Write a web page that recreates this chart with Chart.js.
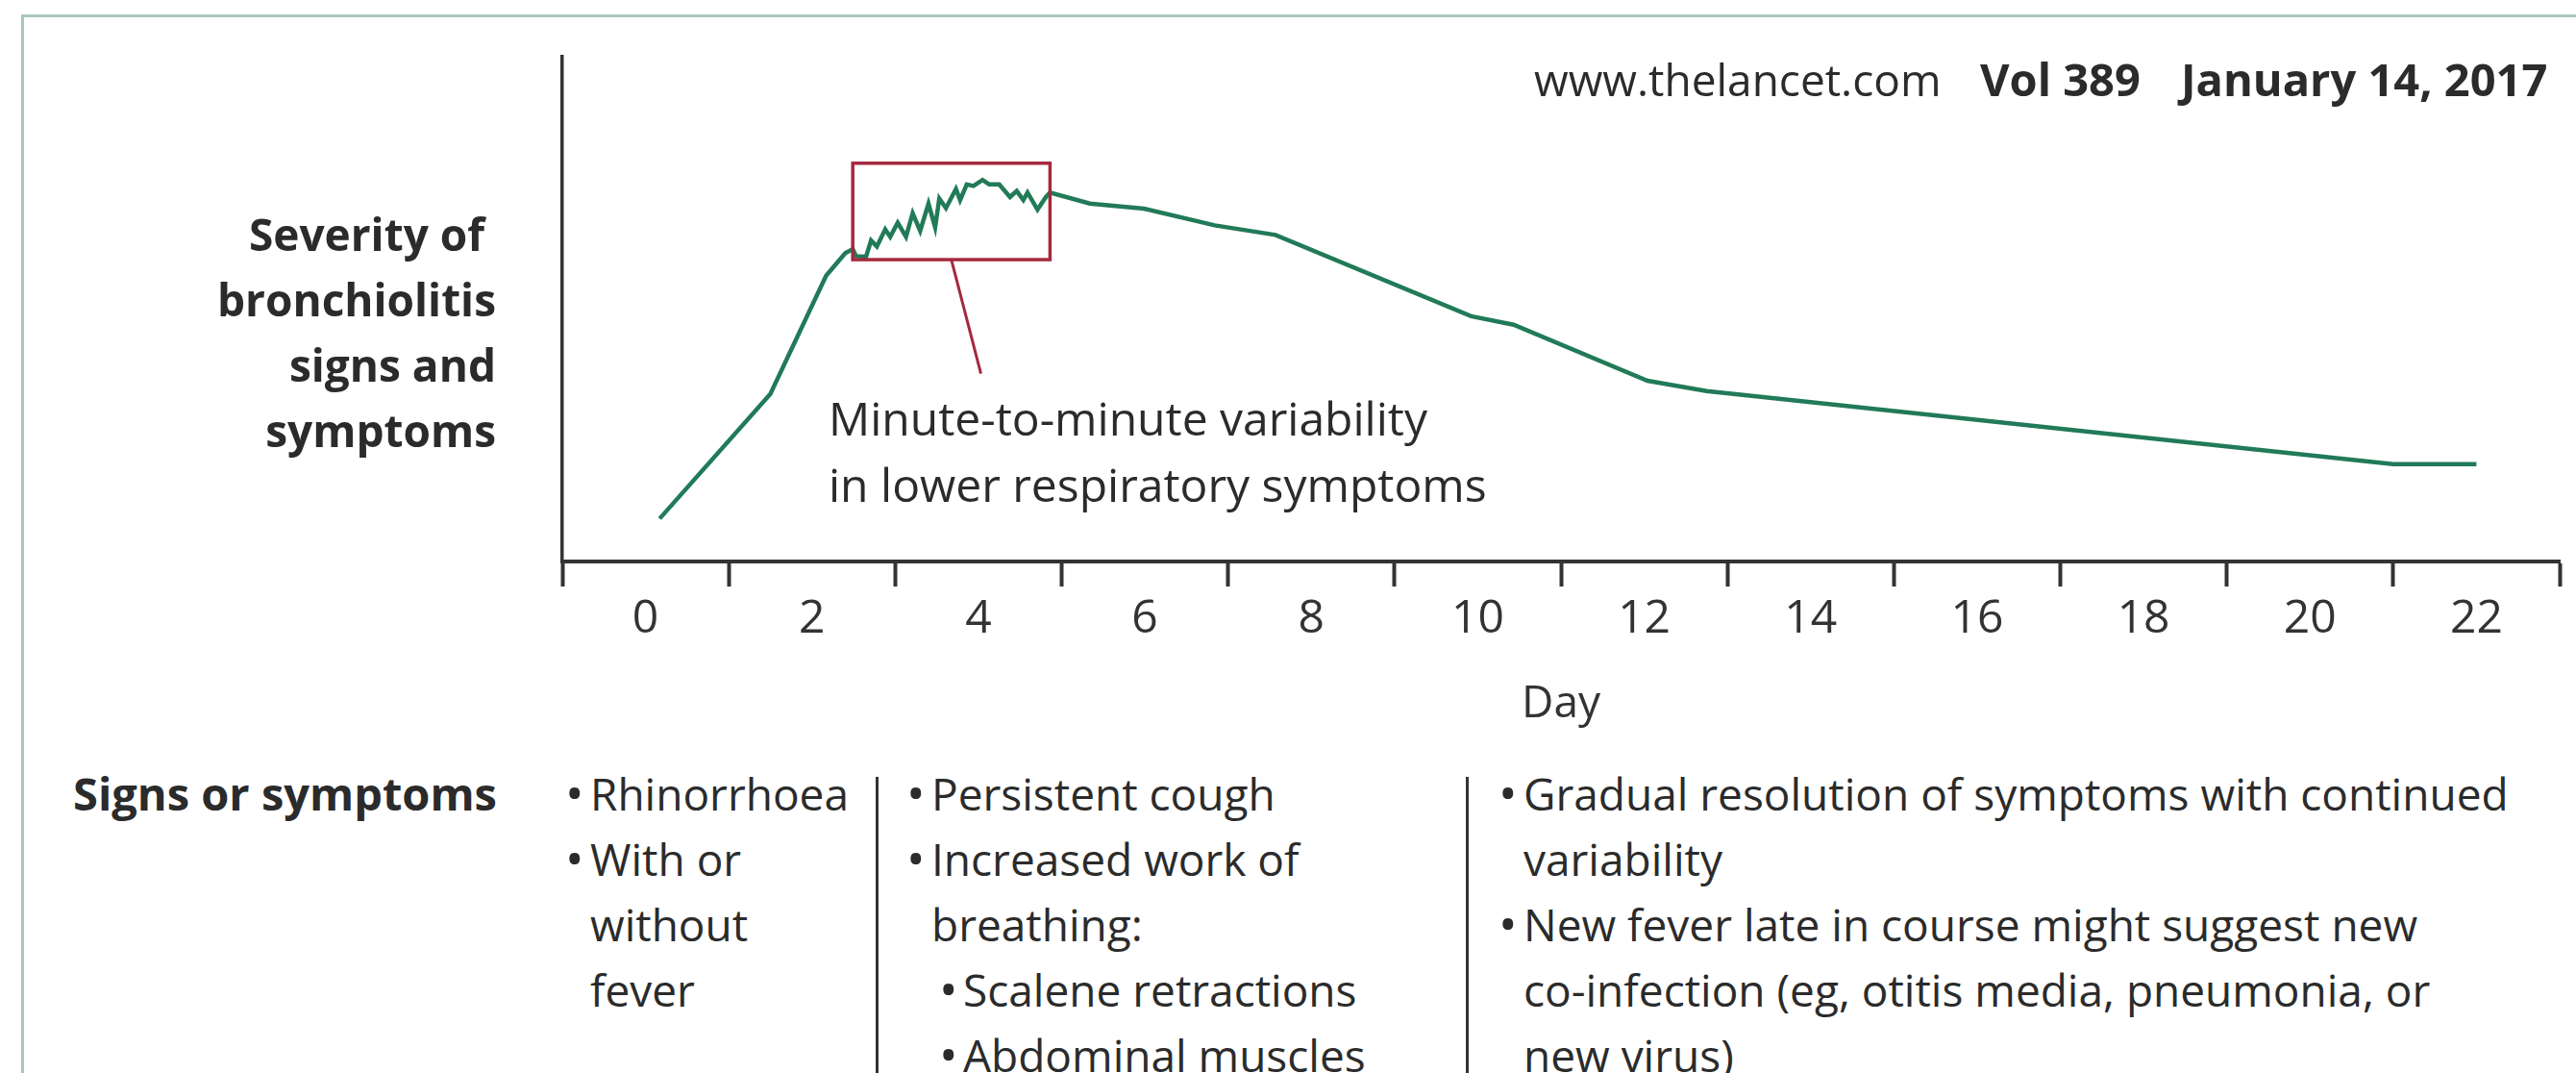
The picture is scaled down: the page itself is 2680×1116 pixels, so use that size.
<!DOCTYPE html>
<html>
<head>
  <meta charset="UTF-8">
  <title>Course of bronchiolitis</title>
  <script src="https://cdn.jsdelivr.net/npm/chart.js"></script>
  <style>
    body {
      margin: 0;
      background: #fff;
      font-family: "Open Sans", sans-serif;
      color: #2b2b2b;
    }
    .page {
      position: relative;
      width: 2680px;
      height: 1116px;
      overflow: hidden;
      background: #fff;
    }
    .frame {
      position: absolute;
      left: 22px;
      top: 15px;
      width: 2700px;
      height: 1200px;
      border-top: 3px solid #a9c6ba;
      border-left: 3px solid #a9c6ba;
    }
    #chart { position: absolute; left: 0; top: 0; }
    .txt { position: absolute; white-space: nowrap; }
    .bold { font-weight: 700; }
    .col { position: absolute; top: 791px; font-size: 46px; line-height: 68px; white-space: nowrap; }
    .li, .cont, .sub { position: relative; }
    .li { padding-left: 25px; }
    .cont { padding-left: 25px; }
    .sub { padding-left: 58px; }
    .li::before, .sub::before { content: "\2022"; position: absolute; font-size: 52px; line-height: 66px; }
    .li::before { left: -1px; }
    .sub::before { left: 33px; }
    .divider { position: absolute; top: 808px; width: 3px; height: 320px; background: #333; }
  </style>
</head>
<body>
<div class="page">
  <div class="frame"></div>
  <canvas id="chart" width="2680" height="780"></canvas>

  <div class="txt" style="left:1596px; top:57px; font-size:46px; line-height:50px;">www.thelancet.com</div>
  <div class="txt bold" style="left:2060px; top:57px; font-size:47px; line-height:50px;">Vol 389</div>
  <div class="txt bold" style="left:2269px; top:57px; font-size:47px; line-height:50px;">January 14, 2017</div>

  <div class="txt bold" style="right:2164px; top:209px; font-size:46px; line-height:68px; text-align:right;">
    Severity of&nbsp;<br>bronchiolitis<br>signs and<br>symptoms
  </div>

  <div class="txt" style="left:862px; top:400px; font-size:48px; line-height:69px;">
    Minute-to-minute variability<br>in lower respiratory symptoms
  </div>

  <div class="txt bold" style="left:76px; top:791px; font-size:47px; line-height:68px;">Signs or symptoms</div>

  <div class="col" style="left:589px;">
    <div class="li">Rhinorrhoea</div>
    <div class="li">With or</div>
    <div class="cont">without</div>
    <div class="cont">fever</div>
  </div>
  <div class="divider" style="left:911px;"></div>
  <div class="col" style="left:944px;">
    <div class="li">Persistent cough</div>
    <div class="li">Increased work of</div>
    <div class="cont">breathing:</div>
    <div class="sub">Scalene retractions</div>
    <div class="sub">Abdominal muscles</div>
  </div>
  <div class="divider" style="left:1525px;"></div>
  <div class="col" style="left:1560px;">
    <div class="li">Gradual resolution of symptoms with continued</div>
    <div class="cont">variability</div>
    <div class="li">New fever late in course might suggest new</div>
    <div class="cont">co-infection (eg, otitis media, pneumonia, or</div>
    <div class="cont">new virus)</div>
  </div>
</div>

<script>
  // Course of illness (severity in arbitrary units 0-100)
  const days = [0.17, 1.50, 2.17, 2.40, 2.49, 2.53, 2.65, 2.71, 2.78, 2.88, 2.94, 3.03, 3.13, 3.21, 3.30,
    3.40, 3.48, 3.53, 3.61, 3.73, 3.78, 3.86, 3.94, 4.05, 4.13, 4.25, 4.38, 4.46, 4.54, 4.59, 4.71,
    4.81, 4.86, 5.34, 5.99, 6.84, 7.57, 9.92, 10.43, 12.04, 12.75, 21.0, 22.0];
  const severity = [8.5, 33.2, 56.6, 61.1, 61.9, 60.5, 60.4, 63.6, 62.4, 65.8, 64.3, 67.1, 64.3, 69.0, 65.5,
    70.9, 66.2, 71.9, 70.0, 73.8, 71.6, 74.7, 74.4, 75.6, 74.7, 74.7, 72.2, 73.4, 71.6, 73.1, 69.7,
    72.2, 73.1, 70.9, 69.9, 66.6, 64.7, 48.6, 46.9, 35.8, 33.75, 19.3, 19.3];

  // x axis: labels on even days, tick marks on odd days
  const dayLabels = [0, 2, 4, 6, 8, 10, 12, 14, 16, 18, 20, 22];

  // highlighted window of minute-to-minute variability (day range, severity range)
  const boxDays = [2.49, 4.86];
  const boxSeverity = [59.8, 78.9];
  const leaderDays = [3.675, 4.03];
  const leaderSeverity = [59.8, 37.2];

  Chart.defaults.font.family = '"Open Sans", sans-serif';
  Chart.defaults.color = '#333';

  const variabilityBox = {
    id: 'variabilityBox',
    afterDatasetsDraw(chart) {
      const {ctx, scales: {x, y}} = chart;
      ctx.save();
      ctx.strokeStyle = '#a4293e';
      ctx.lineWidth = 3.5;
      const x0 = x.getPixelForValue(boxDays[0]), x1 = x.getPixelForValue(boxDays[1]);
      const y0 = y.getPixelForValue(boxSeverity[1]), y1 = y.getPixelForValue(boxSeverity[0]);
      ctx.strokeRect(x0, y0, x1 - x0, y1 - y0);
      ctx.beginPath();
      ctx.lineWidth = 3;
      ctx.moveTo(x.getPixelForValue(leaderDays[0]), y.getPixelForValue(leaderSeverity[0]));
      ctx.lineTo(x.getPixelForValue(leaderDays[1]), y.getPixelForValue(leaderSeverity[1]));
      ctx.stroke();
      ctx.restore();
    }
  };

  new Chart(document.getElementById('chart').getContext('2d'), {
    type: 'line',
    data: {
      datasets: [{
        data: days.map((d, i) => ({x: d, y: severity[i]})),
        borderColor: '#217a58',
        borderWidth: 4.5,
        pointRadius: 0,
        tension: 0,
        fill: false
      }]
    },
    options: {
      responsive: false,
      animation: false,
      devicePixelRatio: 1,
      layout: { padding: { left: 585, right: 17, top: 59, bottom: 20 } },
      plugins: { legend: { display: false }, tooltip: { enabled: false } },
      scales: {
        x: {
          type: 'linear',
          min: -1,
          max: 23,
          ticks: {
            stepSize: 1,
            autoSkip: false,
            maxRotation: 0,
            padding: 6,
            color: '#333',
            font: { size: 48 },
            callback: v => dayLabels.includes(v) ? String(v) : ''
          },
          grid: {
            drawOnChartArea: false,
            drawTicks: true,
            tickLength: 26,
            tickWidth: 4,
            tickColor: c => (c.tick && Math.abs(c.tick.value % 2) === 1) ? '#333' : 'rgba(0,0,0,0)'
          },
          border: { display: true, color: '#333', width: 4 },
          title: { display: true, text: 'Day', color: '#333', font: { size: 46 }, padding: { top: 0, bottom: 0 } },
          afterFit: s => { s.height = 176; }
        },
        y: {
          min: 0,
          max: 100,
          ticks: { display: false },
          grid: { display: false, drawTicks: false },
          border: { display: true, color: '#333', width: 3.5 },
          afterFit: s => { s.width = 0; }
        }
      }
    },
    plugins: [variabilityBox]
  });
</script>
</body>
</html>
